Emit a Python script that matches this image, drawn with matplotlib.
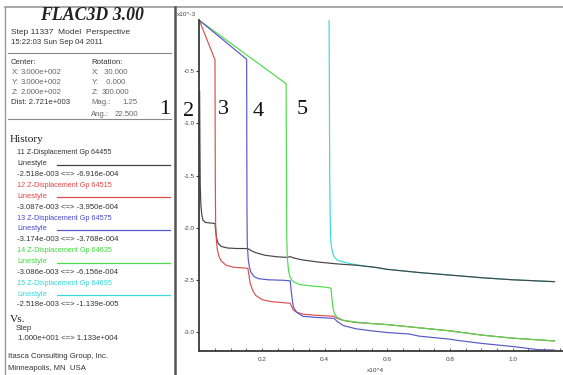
import matplotlib
matplotlib.use("Agg")
import matplotlib.pyplot as plt
from matplotlib.lines import Line2D
from matplotlib.ticker import MultipleLocator

# ---------------- data (x in 1e4 steps, y in 1e-3 m) ----------------
x_gp11 = [0.001, 0.002, 0.003, 0.005, 0.008, 0.012, 0.02, 0.035, 0.05, 0.053, 0.056, 0.06,
          0.07, 0.09, 0.12, 0.15, 0.158, 0.165, 0.18, 0.21, 0.25, 0.28, 0.29, 0.295, 0.30,
          0.33, 0.38, 0.43, 0.45, 0.5, 0.56, 0.6, 0.7, 0.8, 0.9, 1.0, 1.133]
y_gp11 = [-0.69, -1.2, -1.6, -1.78, -1.88, -1.93, -1.95, -1.955, -1.96, -2.05, -2.11, -2.15,
          -2.18, -2.195, -2.2, -2.2, -2.205, -2.22, -2.24, -2.265, -2.28, -2.285, -2.278, -2.283, -2.29,
          -2.31, -2.33, -2.345, -2.35, -2.36, -2.38, -2.40, -2.43, -2.455, -2.48, -2.50, -2.518]

x_gp12 = [0.0, 0.05, 0.051, 0.052, 0.054, 0.057, 0.062, 0.07, 0.085, 0.11, 0.155, 0.158,
          0.162, 0.17, 0.18, 0.2, 0.23, 0.27, 0.29, 0.295, 0.30, 0.31, 0.33, 0.37, 0.43,
          0.44, 0.46, 0.5, 0.55, 0.6, 0.7, 0.8, 0.9, 1.0, 1.133]
y_gp12 = [-0.011, -0.39, -1.5, -1.95, -2.1, -2.2, -2.27, -2.32, -2.36, -2.38, -2.39, -2.45,
          -2.53, -2.6, -2.65, -2.69, -2.71, -2.72, -2.725, -2.76, -2.79, -2.81, -2.83, -2.84, -2.85,
          -2.87, -2.89, -2.91, -2.92, -2.93, -2.96, -2.99, -3.03, -3.06, -3.087]

x_gp13 = [0.0, 0.151, 0.152, 0.153, 0.156, 0.16, 0.165, 0.175, 0.19, 0.22, 0.27, 0.29,
          0.293, 0.297, 0.30, 0.31, 0.33, 0.37, 0.43, 0.44, 0.46, 0.5, 0.55, 0.6, 0.67,
          0.7, 0.8, 0.82, 0.9, 1.0, 1.08, 1.133]
y_gp13 = [-0.011, -0.385, -1.8, -2.15, -2.3, -2.38, -2.43, -2.47, -2.49, -2.5, -2.505, -2.51,
          -2.6, -2.7, -2.76, -2.81, -2.85, -2.86, -2.87, -2.9, -2.94, -2.97, -2.99, -3.006, -3.02,
          -3.04, -3.07, -3.08, -3.11, -3.14, -3.17, -3.174]

x_gp14 = [0.0, 0.277, 0.278, 0.279, 0.281, 0.285, 0.29, 0.30, 0.32, 0.36, 0.40, 0.42,
          0.423, 0.427, 0.432, 0.44, 0.46, 0.5, 0.55, 0.6, 0.7, 0.8, 0.9, 1.0, 1.133]
y_gp14 = [-0.011, -0.62, -1.5, -2.1, -2.3, -2.42, -2.48, -2.52, -2.545, -2.56, -2.57, -2.58,
          -2.68, -2.78, -2.83, -2.86, -2.89, -2.905, -2.92, -2.93, -2.96, -2.99, -3.03, -3.06, -3.086]

x_gp15 = [0.414, 0.416, 0.418, 0.42, 0.425, 0.43, 0.44, 0.46, 0.49, 0.53, 0.56, 0.6, 0.7,
          0.8, 0.9, 1.0, 1.133]
y_gp15 = [-0.011, -1.5, -2.0, -2.15, -2.24, -2.28, -2.31, -2.33, -2.35, -2.37, -2.38, -2.40,
          -2.43, -2.455, -2.48, -2.50, -2.518]

series_names = ["11 Z-Displacement Gp 64455", "12 Z-Displacement Gp 64515",
                "13 Z-Displacement Gp 64575", "14 Z-Displacement Gp 64635",
                "15 Z-Displacement Gp 64695"]
series_ranges = ["-2.518e-003 <=> -6.916e-004", "-3.087e-003 <=> -3.950e-004",
                 "-3.174e-003 <=> -3.768e-004", "-3.086e-003 <=> -6.156e-004",
                 "-2.518e-003 <=> -1.139e-005"]
series_colors = ["#444444", "#d85050", "#5858c8", "#4cdc4c", "#3cdada"]
text_colors = ["#333333", "#e04848", "#4848d0", "#3ed83e", "#33d8d8"]

ytick_vals = [-0.5, -1.0, -1.5, -2.0, -2.5, -3.0]
ytick_labels = ["-0.5", "-1.0", "-1.5", "-2.0", "-2.5", "-3.0"]
xtick_vals = [0.2, 0.4, 0.6, 0.8, 1.0]
xtick_labels = ["0.2", "0.4", "0.6", "0.8", "1.0"]
curve_labels = ["1", "2", "3", "4", "5"]

# ---------------- figure ----------------
W, H = 563, 375
fig = plt.figure(figsize=(W / 100, H / 100), dpi=100)
fig.patch.set_facecolor("white")


def fx(px):
    return px / W


def fy(py):
    return 1 - py / H


def hline(x0, x1, y, color="#888888", lw=1.0):
    fig.add_artist(Line2D([fx(x0), fx(x1)], [fy(y), fy(y)], color=color, lw=lw,
                          transform=fig.transFigure))


def vline(x, y0, y1, color="#888888", lw=1.0):
    fig.add_artist(Line2D([fx(x), fx(x)], [fy(y0), fy(y1)], color=color, lw=lw,
                          transform=fig.transFigure))


# main axes
ax_left, ax_right = 199.3, 563
ax_top, ax_bot = 20.3, 351
ax = fig.add_axes([fx(ax_left), fy(ax_bot), (ax_right - ax_left) / W, (ax_bot - ax_top) / H])
ax.set_facecolor("none")
xs = [x_gp11, x_gp12, x_gp13, x_gp14, x_gp15]
ys = [y_gp11, y_gp12, y_gp13, y_gp14, y_gp15]
order = [4, 0, 1, 3, 2]
for i in order:
    ax.plot(xs[i], ys[i], color=series_colors[i], lw=0.85, solid_joinstyle="round")
ax.set_xlim(0, (ax_right - ax_left) / 313.5)
ax.set_ylim(-3.183, -0.011)
for s in ["top", "right"]:
    ax.spines[s].set_visible(False)
for s in ["left", "bottom"]:
    ax.spines[s].set_color("#3a3a3a")
    ax.spines[s].set_linewidth(1.3)
ax.set_yticks(ytick_vals)
ax.set_yticklabels(ytick_labels)
ax.set_xticks(xtick_vals)
ax.set_xticklabels(xtick_labels)
ax.xaxis.set_minor_locator(MultipleLocator(0.05))
ax.tick_params(axis="y", direction="out", length=2.5, width=0.8, color="#3a3a3a",
               labelsize=4.6, labelcolor="#444444", pad=0.5)
ax.tick_params(axis="x", which="both", direction="in", length=2.2, width=0.6, color="#555555",
               labelsize=4.6, labelcolor="#444444", pad=4)
for lab in ax.get_xticklabels() + ax.get_yticklabels():
    lab.set_family("Liberation Sans")

fig.text(fx(177), fy(14), "x10^-3", fontsize=4.6, color="#444444", va="center",
         family="Liberation Sans")
fig.text(fx(367), fy(370), "x10^4", fontsize=4.6, color="#444444", va="center",
         family="Liberation Sans")

# big curve numbers
num_pos = [(165, 110), (189, 111), (223, 110), (258, 112), (302, 110)]
for lab, (px, py) in zip(curve_labels, num_pos):
    fig.text(fx(px), fy(py), lab, fontsize=16, family="Liberation Serif",
             ha="center", va="center", color="#111111")

# ---------------- left info panel ----------------
hline(5, 563, 7, color="#999999", lw=1.2)
vline(5, 7, 375, color="#999999", lw=1.0)
vline(175, 7, 375, color="#555555", lw=1.8)
hline(8, 171, 53, color="#888888", lw=0.8)
hline(8, 171, 119, color="#888888", lw=0.8)

small = dict(fontsize=5.6, family="Liberation Sans", va="center", color="#333333")
gray = dict(fontsize=5.6, family="Liberation Sans", va="center", color="#666666")

fig.text(fx(92), fy(16), "FLAC3D 3.00", fontsize=12.8, family="Liberation Serif",
         weight="bold", style="italic", ha="center", va="center", color="#222222")
fig.text(fx(11), fy(32), "Step 11337  Model  Perspective", fontsize=6.0,
         family="Liberation Sans", va="center", color="#333333")
fig.text(fx(11), fy(43), "15:22:03 Sun Sep 04 2011", **small)

fig.text(fx(11), fy(63), "Center:", **small)
fig.text(fx(91), fy(63), "Rotation:", **small)
left_vals = [("X:", "3.000e+002"), ("Y:", "3.000e+002"), ("Z:", "2.000e+002")]
right_vals = [("X:", " 30.000"), ("Y:", "  0.000"), ("Z:", "300.000")]
for k, ((a, b), (c, d)) in enumerate(zip(left_vals, right_vals)):
    yy = 73 + 10 * k
    fig.text(fx(12), fy(yy), a, **gray)
    fig.text(fx(21), fy(yy), b, **gray)
    fig.text(fx(92), fy(yy), c, **gray)
    fig.text(fx(102), fy(yy), d, **gray)
fig.text(fx(11), fy(103), "Dist: 2.721e+003", **small)
fig.text(fx(91), fy(103), "Mag.:", **gray)
fig.text(fx(137), fy(103), "1.25", ha="right", **gray)
fig.text(fx(91), fy(114), "Ang.:", **gray)
fig.text(fx(138), fy(114), "22.500", ha="right", **gray)

fig.text(fx(10), fy(140), "History", fontsize=8.2, family="Liberation Serif", va="center",
         color="#222222")
row = 10.85
y0 = 153
for i in range(5):
    ya = y0 + row * (3 * i)
    yb = ya + row
    yc = ya + 2 * row
    fig.text(fx(17), fy(ya), series_names[i], fontsize=5.2, family="Liberation Sans",
             va="center", color=text_colors[i])
    fig.text(fx(17), fy(yb), "Linestyle", fontsize=5.4, family="Liberation Sans",
             va="center", color=text_colors[i])
    hline(57, 170, yb + 1, color=series_colors[i], lw=0.9)
    fig.text(fx(17), fy(yc), series_ranges[i], **small)

fig.text(fx(10), fy(319), "Vs.", fontsize=8.2, family="Liberation Serif", va="center",
         color="#222222")
fig.text(fx(16), fy(328), "Step", **small)
fig.text(fx(18), fy(338), "1.000e+001 <=> 1.133e+004", **small)
fig.text(fx(8), fy(357), "Itasca Consulting Group, Inc.", **small)
fig.text(fx(8), fy(368), "Minneapolis, MN  USA", **small)

fig.savefig("out.png", dpi=100, facecolor="white")
